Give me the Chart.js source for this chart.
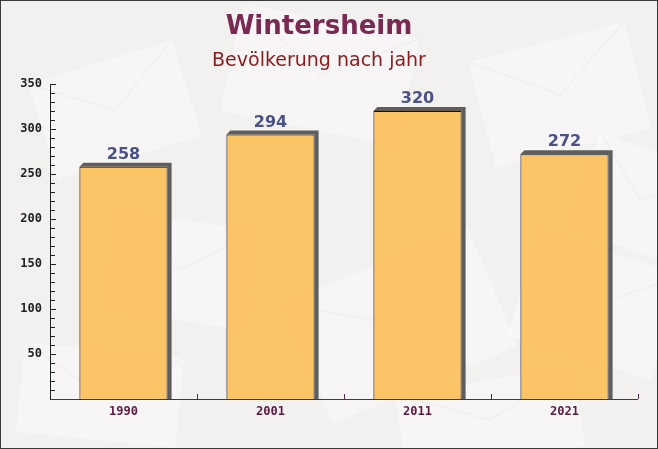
<!DOCTYPE html>
<html>
<head>
<meta charset="utf-8">
<script src="https://cdn.jsdelivr.net/npm/chart.js@4"></script>
<style>
  html, body { margin: 0; padding: 0; background: #f3f0f0; }
  #wrap { width: 658px; height: 449px; position: relative; }
</style>
</head>
<body>
<div id="wrap"><canvas id="chart"></canvas></div>
<script>
// ── Daten ──
const jahre      = ['1990', '2001', '2011', '2021'];
const einwohner  = [258, 294, 320, 272];
const yTicks     = [50, 100, 150, 200, 250, 300, 350];

const titel      = 'Wintersheim';
const untertitel = 'Bevölkerung nach jahr';

// Hintergrund mit blassen "Briefumschlägen"
const hintergrund = {
  id: 'hintergrund',
  beforeDraw(chart) {
    const c = chart.ctx;
    c.save();
    c.fillStyle = '#f3f0f0';
    c.fillRect(0, 0, chart.width, chart.height);
    const env = [
      [40, 60, 150, 100, -0.3], [230, 20, 180, 110, 0.2], [480, 40, 160, 110, -0.25],
      [110, 220, 140, 100, 0.15], [300, 260, 200, 130, -0.4], [520, 250, 150, 110, 0.3],
      [20, 350, 160, 90, 0.1], [400, 380, 180, 80, -0.15], [580, 150, 120, 100, 0.35]
    ];
    env.forEach(([x, y, w, h, r]) => {
      c.save();
      c.translate(x + w / 2, y + h / 2);
      c.rotate(r);
      c.fillStyle = 'rgba(255,255,255,0.35)';
      c.fillRect(-w / 2, -h / 2, w, h);
      c.strokeStyle = 'rgba(220,212,216,0.25)';
      c.beginPath();
      c.moveTo(-w / 2, -h / 2); c.lineTo(0, 0); c.lineTo(w / 2, -h / 2);
      c.stroke();
      c.restore();
    });
    c.restore();
  },
  afterDraw(chart) {
    const c = chart.ctx;
    c.save();
    c.strokeStyle = '#3a3a3a';
    c.lineWidth = 1;
    c.strokeRect(0.5, 0.5, chart.width - 1, chart.height - 1);
    c.restore();
  }
};

// 3D-Schatten neben den Balken
const schatten = {
  id: 'schatten',
  beforeDatasetsDraw(chart) {
    const c = chart.ctx;
    const d = 4;
    c.save();
    chart.getDatasetMeta(0).data.forEach(bar => {
      const x0 = bar.x - bar.width / 2, x1 = bar.x + bar.width / 2;
      const top = bar.y, bottom = bar.base;
      c.fillStyle = '#5e5e5e';
      c.beginPath();
      c.moveTo(x0, top);
      c.lineTo(x0 + d, top - d);
      c.lineTo(x1 + d, top - d);
      c.lineTo(x1 + d, bottom);
      c.lineTo(x1, bottom);
      c.lineTo(x1, top);
      c.closePath();
      c.fill();
    });
    c.restore();
  },
  afterDatasetsDraw(chart) {
    const c = chart.ctx;
    c.save();
    c.font = 'bold 16px "DejaVu Sans"';
    c.fillStyle = '#4a5285';
    c.textAlign = 'center';
    c.textBaseline = 'bottom';
    chart.getDatasetMeta(0).data.forEach((bar, i) => {
      c.fillText(einwohner[i], bar.x, bar.y - 4);
    });
    c.restore();
  }
};

// Achsen mit Strichen nach innen
const achsen = {
  id: 'achsen',
  afterDraw(chart) {
    const c = chart.ctx, a = chart.chartArea;
    const y = chart.scales.y, x = chart.scales.x;
    c.save();
    c.strokeStyle = '#222';
    c.lineWidth = 1;
    c.beginPath();
    c.moveTo(a.left + 0.5, a.top);
    c.lineTo(a.left + 0.5, a.bottom);
    for (let v = 10; v <= 350; v += 10) {
      const py = Math.round(y.getPixelForValue(v)) + 0.5;
      c.moveTo(a.left, py);
      c.lineTo(a.left + (v % 50 === 0 ? 6 : 5), py);
    }
    c.stroke();
    c.strokeStyle = '#5a2a4a';
    c.beginPath();
    c.moveTo(a.left, a.bottom + 0.5);
    c.lineTo(a.right, a.bottom + 0.5);
    for (let i = 1; i <= jahre.length; i++) {
      const px = Math.round(x.getPixelForValue(i - 0.5)) + 0.5;
      c.moveTo(px, a.bottom);
      c.lineTo(px, a.bottom - 5);
    }
    c.stroke();
    c.restore();
  }
};

new Chart(document.getElementById('chart'), {
  type: 'bar',
  data: {
    labels: jahre,
    datasets: [{
      data: einwohner,
      backgroundColor: 'rgba(252,186,72,0.82)',
      borderColor: '#111',
      borderWidth: 1,
      barPercentage: 0.6,
      categoryPercentage: 1.0
    }]
  },
  options: {
    responsive: true,
    maintainAspectRatio: false,
    animation: false,
    layout: { padding: { left: 0, right: 20, top: 2, bottom: 0 } },
    plugins: {
      legend: { display: false },
      tooltip: { enabled: false },
      title: {
        display: true,
        text: titel,
        color: '#7a2a52',
        font: { family: 'DejaVu Sans', size: 26, weight: 'bold', lineHeight: 1.2 },
        padding: { top: 10, bottom: 2 }
      },
      subtitle: {
        display: true,
        text: untertitel,
        color: '#8b1a1a',
        font: { family: 'DejaVu Sans', size: 19, lineHeight: 1.2 },
        padding: { top: 4, bottom: 12 }
      }
    },
    scales: {
      x: {
        grid: { display: false, drawTicks: false },
        border: { display: false },
        ticks: {
          color: '#5a1a3e',
          font: { family: 'DejaVu Sans Mono', size: 12, weight: 'bold' },
          padding: 6
        },
        afterFit: s => { s.height = 50; }
      },
      y: {
        min: 0,
        max: 350,
        grid: { display: false, drawTicks: false },
        border: { display: false },
        afterBuildTicks: s => { s.ticks = yTicks.map(v => ({ value: v })); },
        ticks: {
          color: '#222',
          font: { family: 'DejaVu Sans Mono', size: 12, weight: 'bold' },
          padding: 8
        },
        afterFit: s => { s.width = 50; }
      }
    }
  },
  plugins: [hintergrund, schatten, achsen]
});
</script>
</body>
</html>
